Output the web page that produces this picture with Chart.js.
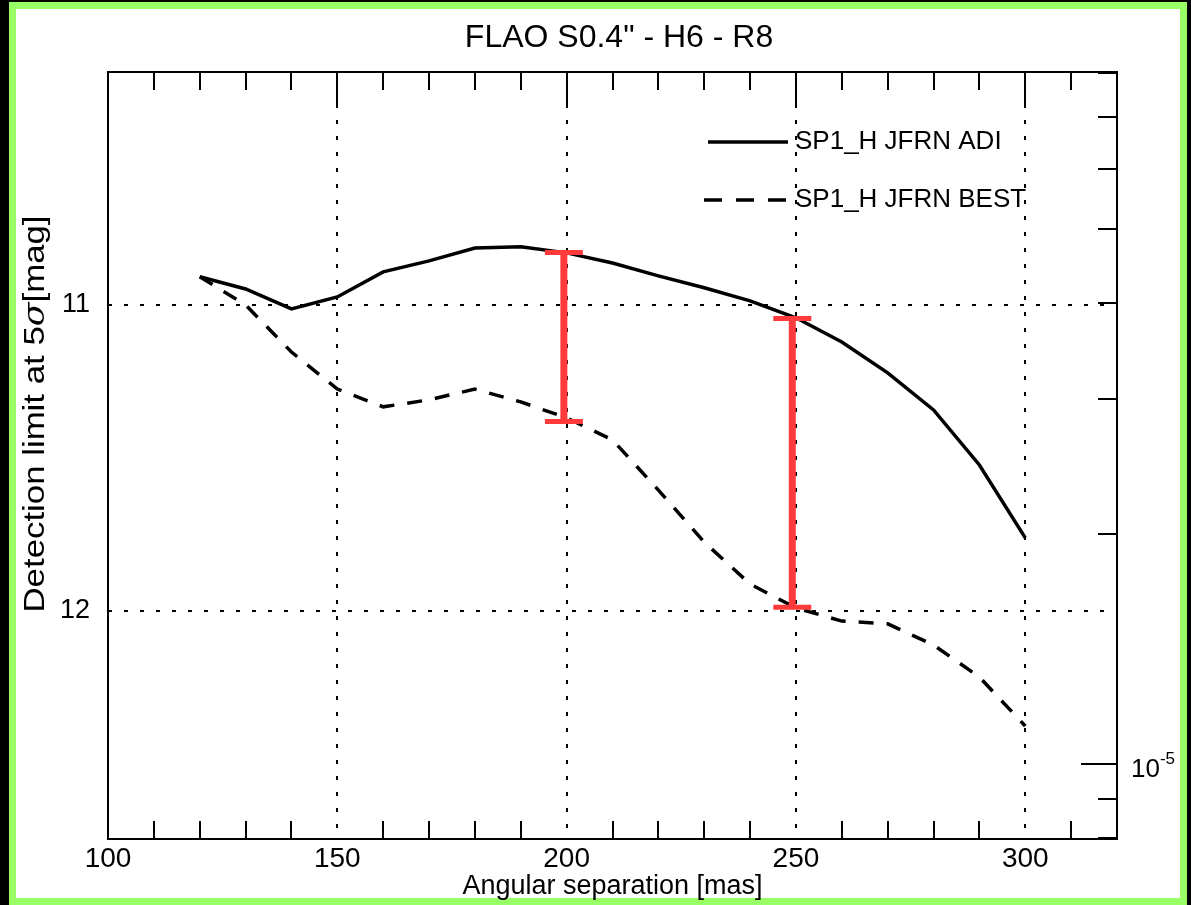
<!DOCTYPE html>
<html><head><meta charset="utf-8">
<script src="https://cdn.jsdelivr.net/npm/chart.js@4"></script>
<style>
html,body{margin:0;padding:0;background:#000;width:1191px;height:905px;overflow:hidden}
#frame{position:absolute;left:9px;top:2px;width:1178px;height:903px;box-sizing:border-box;border:7px solid #99ff66;background:#fff}
#wrap{position:absolute;left:0;top:0;width:1191px;height:905px}
</style></head><body>
<div id="frame"></div>
<div id="wrap"><canvas id="c" width="1191" height="905"></canvas></div>
<script>
// ---- data ----
const chartTitle = 'FLAO S0.4" - H6 - R8';
const separations = [120,130,140,150,160,170,180,190,200,210,220,230,240,250,260,270,280,290,300];
const adiMag  = [10.908,10.948,11.013,10.974,10.892,10.856,10.814,10.810,10.830,10.863,10.905,10.944,10.987,11.042,11.121,11.222,11.343,11.523,11.761];
const bestMag = [10.908,11.000,11.154,11.275,11.333,11.310,11.275,11.317,11.369,11.441,11.605,11.775,11.912,11.990,12.033,12.042,12.111,12.216,12.376];
const seriesLabels = ['SP1_H JFRN ADI','SP1_H JFRN BEST'];
const errX      = [199.4, 249.2];
const errTop    = [10.829, 11.044];
const errBottom = [11.381, 11.988];
const xTicks = [100,150,200,250,300];
const xMinorTicks = [110,120,130,140,160,170,180,190,210,220,230,240,260,270,280,290,310];
const yTicks = [11,12];
const contrastTicks = [8e-6,9e-6,1e-5,2e-5,3e-5,4e-5,5e-5,6e-5,7e-5,8e-5];
const contrastMajor = [1e-5];
const xRange = [100,320];
const yRange = [10.239,12.745];

const FONT = '"Liberation Sans", Arial, Helvetica, sans-serif';
const RED = '#ff3a3a';

const toPts = (xs, ys) => xs.map((x,i)=>({x, y:ys[i]}));

const datasets = [];
errX.forEach((x,i)=>{
  datasets.push({type:'line', data:[{x, y:errTop[i]},{x, y:errBottom[i]}], borderColor:RED, borderWidth:7,
    borderCapStyle:'butt', pointRadius:0, order:0, isErr:true});
});
datasets.push({type:'scatter', data: errX.flatMap((x,i)=>[{x,y:errTop[i]},{x,y:errBottom[i]}]),
  pointStyle:'line', radius:19, pointRadius:19, borderColor:RED, pointBorderColor:RED, pointBorderWidth:5, borderWidth:5,
  showLine:false, order:0, isErr:true});
datasets.push({label:seriesLabels[0], data:toPts(separations, adiMag), borderColor:'#000', borderWidth:3.5,
  pointRadius:0, tension:0, order:1, fill:false});
datasets.push({label:seriesLabels[1], data:toPts(separations, bestMag), borderColor:'#000', borderWidth:3.5,
  borderDash:[15,13], pointRadius:0, tension:0, order:1, fill:false});

const framePlugin = {
  id:'idlFrame',
  beforeDatasetsDraw(chart){
    const {ctx, chartArea:a, scales:{x,y}} = chart;
    ctx.save();
    ctx.strokeStyle='#000'; ctx.lineWidth=2; ctx.setLineDash([4,12]);
    xTicks.filter(v=>v>x.min).forEach(v=>{
      const px=Math.round(x.getPixelForValue(v));
      ctx.beginPath(); ctx.moveTo(px,a.top); ctx.lineTo(px,a.bottom); ctx.stroke();
    });
    yTicks.forEach(v=>{
      const py=Math.round(y.getPixelForValue(v));
      ctx.beginPath(); ctx.moveTo(a.left,py); ctx.lineTo(a.right-12,py); ctx.stroke();
    });
    ctx.restore();
  },
  afterDatasetsDraw(chart){
    const {ctx, chartArea:a, scales:{x,y,y2}} = chart;
    ctx.save();
    ctx.strokeStyle='#000'; ctx.lineWidth=2; ctx.setLineDash([]);
    const line=(x1,y1,x2,y2_)=>{ctx.beginPath();ctx.moveTo(x1,y1);ctx.lineTo(x2,y2_);ctx.stroke();};
    xMinorTicks.forEach(v=>{
      const px=Math.round(x.getPixelForValue(v));
      line(px,a.top,px,a.top+18);
      line(px,a.bottom,px,a.bottom-18);
    });
    xTicks.filter(v=>v>x.min).forEach(v=>{
      const px=Math.round(x.getPixelForValue(v));
      line(px,a.top,px,a.top+36);
    });
    yTicks.forEach(v=>{ const py=Math.round(y.getPixelForValue(v)); line(a.left,py,a.left+4,py); });
    contrastTicks.forEach(v=>{
      const py=Math.round(y2.getPixelForValue(v));
      const len = contrastMajor.includes(v)?36:19;
      line(a.right,py,a.right-len,py);
    });
    ctx.strokeRect(a.left,a.top,a.right-a.left,a.bottom-a.top);
    // right labels 10^-5
    ctx.fillStyle='#000'; ctx.textBaseline='alphabetic'; ctx.textAlign='left';
    contrastMajor.forEach(v=>{
      const py=y2.getPixelForValue(v);
      const e=Math.round(Math.log10(v));
      ctx.font='26px '+FONT;
      ctx.fillText('10', a.right+14, py+13);
      const w=ctx.measureText('10').width;
      ctx.font='17px '+FONT;
      ctx.fillText(String(e), a.right+14+w, py);
    });
    // title
    ctx.font='32px '+FONT; ctx.textAlign='center';
    ctx.fillText(chartTitle, 619, 47);
    // y title
    ctx.save();
    ctx.translate(44,414); ctx.rotate(-Math.PI/2); ctx.scale(1.2,1);
    const parts=[['Detection limit at 5','29px '+FONT],['\u03c3','italic 29px "DejaVu Serif", serif'],['[mag]','29px '+FONT]];
    let tw=0; parts.forEach(p=>{ctx.font=p[1]; tw+=ctx.measureText(p[0]).width;});
    let cx=-tw/2; ctx.textAlign='left';
    parts.forEach(p=>{ctx.font=p[1]; ctx.fillText(p[0],cx,0); cx+=ctx.measureText(p[0]).width;});
    ctx.restore();
    // legend
    const legY=[142,200];
    chart.data.datasets.filter(d=>d.label).forEach((d,i)=>{
      ctx.save();
      ctx.strokeStyle=d.borderColor; ctx.lineWidth=d.borderWidth;
      ctx.setLineDash(d.borderDash? [18,14]:[]);
      ctx.beginPath(); ctx.moveTo(i?704:708, legY[i]); ctx.lineTo(788, legY[i]); ctx.stroke();
      ctx.restore();
      ctx.font='26px '+FONT; ctx.textAlign='left'; ctx.textBaseline='middle';
      ctx.fillText(d.label, 795, legY[i]);
    });
    ctx.restore();
  }
};

new Chart(document.getElementById('c'), {
  type:'line',
  data:{datasets},
  options:{
    responsive:false, animation:false, devicePixelRatio:1,
    layout:{padding:{top:72,left:0,right:0,bottom:0}},
    plugins:{legend:{display:false}, tooltip:{enabled:false}, title:{display:false}},
    scales:{
      x:{type:'linear', position:'bottom', min:xRange[0], max:xRange[1],
        grid:{display:false, drawTicks:false}, border:{display:false},
        afterBuildTicks:s=>{s.ticks=xTicks.map(v=>({value:v}));},
        afterFit:s=>{s.height=66;},
        ticks:{font:{family:FONT,size:28}, color:'#000', padding:3, maxRotation:0, autoSkip:false},
        title:{display:true, text:'Angular separation [mas]', font:{family:FONT,size:27}, color:'#000', padding:{top:0,bottom:2}}
      },
      y:{type:'linear', position:'left', reverse:true, min:yRange[0], max:yRange[1],
        grid:{display:false, drawTicks:false}, border:{display:false},
        afterBuildTicks:s=>{s.ticks=yTicks.map(v=>({value:v}));},
        afterFit:s=>{s.width=108;},
        ticks:{font:{family:FONT,size:27}, color:'#000', padding:18}
      },
      y2:{type:'logarithmic', position:'right',
        min:Math.pow(10,-yRange[1]/2.5), max:Math.pow(10,-yRange[0]/2.5),
        grid:{display:false, drawTicks:false}, border:{display:false},
        afterBuildTicks:s=>{s.ticks=contrastTicks.map(v=>({value:v}));},
        afterFit:s=>{s.width=74;},
        ticks:{display:false}
      }
    }
  },
  plugins:[framePlugin]
});
</script>
</body></html>
